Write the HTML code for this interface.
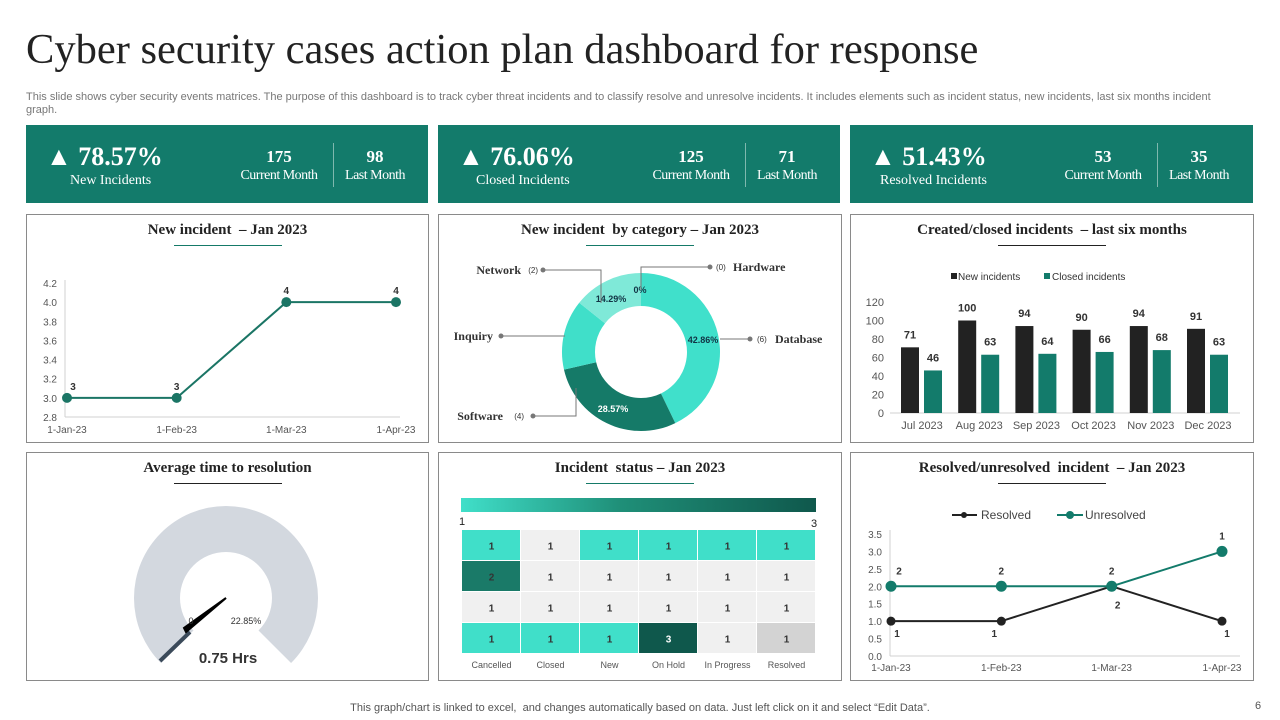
<!DOCTYPE html>
<html><head><meta charset="utf-8">
<style>
body{margin:0;width:1280px;height:720px;background:#fff;position:relative;overflow:hidden;font-family:"Liberation Sans",sans-serif}
.abs{position:absolute}
.serif{font-family:"Liberation Serif",serif}
.card{position:absolute;top:125px;height:78px;background:#137b6b;color:#fff;font-family:"Liberation Serif",serif}
.panel{position:absolute;border:1px solid #8a8a8a;box-sizing:border-box;background:#fff}
.ptitle{position:absolute;left:0;right:0;top:7px;text-align:center;font-family:"Liberation Serif",serif;font-weight:bold;font-size:15px;color:#222}
.uline{position:absolute;top:30px;height:1px;width:108px;background:#157a68}
svg text{font-family:"Liberation Sans",sans-serif}
</style></head><body>
<div class="abs serif" style="left:26px;top:25px;font-size:42.5px;color:#222">Cyber security cases action plan dashboard for response</div>
<div class="abs" style="left:26px;top:91px;width:1215px;font-size:11px;line-height:13px;color:#777">This slide shows cyber security events matrices. The purpose of this dashboard is to track cyber threat incidents and to classify resolve and unresolve incidents. It includes elements such as incident status, new incidents, last six months incident graph.</div>

<div class="card" style="left:26px;width:402px">
 <div class="abs" style="left:20px;top:17px;font-size:26px;font-weight:bold">▲ 78.57%</div>
 <div class="abs" style="left:44px;top:48px;font-size:14px">New Incidents</div>
 <div class="abs" style="left:210px;top:22px;width:86px;text-align:center;font-size:17px;font-weight:bold">175</div>
 <div class="abs" style="left:206px;top:43px;width:94px;text-align:center;font-size:14px;letter-spacing:-0.5px">Current Month</div>
 <div class="abs" style="left:307px;top:18px;width:1px;height:44px;background:#7fb8ae"></div>
 <div class="abs" style="left:310px;top:22px;width:78px;text-align:center;font-size:17px;font-weight:bold">98</div>
 <div class="abs" style="left:310px;top:43px;width:78px;text-align:center;font-size:14px;letter-spacing:-0.5px">Last Month</div>
</div>
<div class="card" style="left:438px;width:402px">
 <div class="abs" style="left:20px;top:17px;font-size:26px;font-weight:bold">▲ 76.06%</div>
 <div class="abs" style="left:38px;top:48px;font-size:14px">Closed Incidents</div>
 <div class="abs" style="left:210px;top:22px;width:86px;text-align:center;font-size:17px;font-weight:bold">125</div>
 <div class="abs" style="left:206px;top:43px;width:94px;text-align:center;font-size:14px;letter-spacing:-0.5px">Current Month</div>
 <div class="abs" style="left:307px;top:18px;width:1px;height:44px;background:#7fb8ae"></div>
 <div class="abs" style="left:310px;top:22px;width:78px;text-align:center;font-size:17px;font-weight:bold">71</div>
 <div class="abs" style="left:310px;top:43px;width:78px;text-align:center;font-size:14px;letter-spacing:-0.5px">Last Month</div>
</div>
<div class="card" style="left:850px;width:403px">
 <div class="abs" style="left:20px;top:17px;font-size:26px;font-weight:bold">▲ 51.43%</div>
 <div class="abs" style="left:30px;top:48px;font-size:14px">Resolved Incidents</div>
 <div class="abs" style="left:210px;top:22px;width:86px;text-align:center;font-size:17px;font-weight:bold">53</div>
 <div class="abs" style="left:206px;top:43px;width:94px;text-align:center;font-size:14px;letter-spacing:-0.5px">Current Month</div>
 <div class="abs" style="left:307px;top:18px;width:1px;height:44px;background:#7fb8ae"></div>
 <div class="abs" style="left:310px;top:22px;width:78px;text-align:center;font-size:17px;font-weight:bold">35</div>
 <div class="abs" style="left:310px;top:43px;width:78px;text-align:center;font-size:14px;letter-spacing:-0.5px">Last Month</div>
</div>

<div class="panel" style="left:26px;top:214px;width:403px;height:229px"><div class="ptitle">New incident &nbsp;– Jan 2023</div><div class="uline" style="left:147px"></div></div>
<div class="panel" style="left:438px;top:214px;width:404px;height:229px"><div class="ptitle">New incident &nbsp;by category – Jan 2023</div><div class="uline" style="left:147px"></div></div>
<div class="panel" style="left:850px;top:214px;width:404px;height:229px"><div class="ptitle">Created/closed incidents &nbsp;– last six months</div><div class="uline" style="left:147px;background:#222"></div></div>
<div class="panel" style="left:26px;top:452px;width:403px;height:229px"><div class="ptitle">Average time to resolution</div><div class="uline" style="left:147px;background:#222"></div></div>
<div class="panel" style="left:438px;top:452px;width:404px;height:229px"><div class="ptitle">Incident &nbsp;status – Jan 2023</div><div class="uline" style="left:147px"></div></div>
<div class="panel" style="left:850px;top:452px;width:404px;height:229px"><div class="ptitle">Resolved/unresolved &nbsp;incident &nbsp;– Jan 2023</div><div class="uline" style="left:147px;background:#222"></div></div>

<svg id="chart" class="abs" style="left:0;top:0" width="1280" height="720">
<defs><linearGradient id="grad" x1="0" x2="1"><stop offset="0" stop-color="#40dfc9"/><stop offset="0.45" stop-color="#1f8f78"/><stop offset="1" stop-color="#0f584c"/></linearGradient></defs>
</svg>

<div class="abs" style="left:0;width:1280px;top:702px;text-align:center;font-size:11px;color:#555">This graph/chart is linked to excel, &nbsp;and changes automatically based on data. Just left click on it and select “Edit Data”.</div>
<div class="abs" style="left:1255px;top:700px;font-size:11px;color:#555">6</div>

<script>
// Chart 1 data
const newIncDates=["1-Jan-23","1-Feb-23","1-Mar-23","1-Apr-23"];
const newIncValues=[3,3,4,4];
const newIncTicks=[2.8,3.0,3.2,3.4,3.6,3.8,4.0,4.2];
// Donut data
const catNames=["Database","Software","Inquiry","Network","Hardware"];
const catCounts=[6,4,2,2,0];
// Bar data
const months=["Jul 2023","Aug 2023","Sep 2023","Oct 2023","Nov 2023","Dec 2023"];
const newIncidents=[71,100,94,90,94,91];
const closedIncidents=[46,63,64,66,68,63];
const barTicks=[0,20,40,60,80,100,120];
// Gauge data
const gaugeValue=0.75;
const gaugePct=22.85;
// Heatmap data
const statusCols=["Cancelled","Closed","New","On Hold","In Progress","Resolved"];
const heatValues=[[1,1,1,1,1,1],[2,1,1,1,1,1],[1,1,1,1,1,1],[1,1,1,3,1,1]];
const heatColors=[["#40dfc9","#f0f0f0","#40dfc9","#40dfc9","#40dfc9","#40dfc9"],["#1a7a68","#f0f0f0","#f0f0f0","#f0f0f0","#f0f0f0","#f0f0f0"],["#f0f0f0","#f0f0f0","#f0f0f0","#f0f0f0","#f0f0f0","#f0f0f0"],["#40dfc9","#40dfc9","#40dfc9","#0f584c","#f0f0f0","#d3d3d3"]];
// Resolved/unresolved data
const ruDates=["1-Jan-23","1-Feb-23","1-Mar-23","1-Apr-23"];
const resolved=[1,1,2,1];
const unresolved=[2,2,2,3];
const ruLabels=[2,2,2,1];
const ruTicks=[0,0.5,1,1.5,2,2.5,3,3.5];

const svg=document.getElementById('chart');
const NS="http://www.w3.org/2000/svg";
function mk(tag,attrs,txt){const e=document.createElementNS(NS,tag);for(const k in attrs)e.setAttribute(k,attrs[k]);if(txt!==undefined)e.textContent=txt;svg.appendChild(e);return e;}

// ---- Chart 1
{const x=i=>67+i*(396-67)/3, y=v=>417-(v-2.8)/(1.4)*134;
 let l=mk('line',{x1:65,y1:417,x2:400,y2:417,stroke:'#d0d0d0'});
 
 mk('line',{x1:65,y1:280,x2:65,y2:417,stroke:'#d0d0d0'});
 newIncTicks.forEach(t=>{const e=mk('text',{x:57,y:y(t)+4,'font-size':10,fill:'#555','text-anchor':'end'},t.toFixed(1));});
 newIncDates.forEach((d,i)=>{const e=mk('text',{x:x(i),y:433,'font-size':10,fill:'#555','text-anchor':'middle'},d);});
 const p=mk('polyline',{points:newIncValues.map((v,i)=>x(i)+','+y(v)).join(' '),fill:'none',stroke:'#1b7565','stroke-width':2});
 
 newIncValues.forEach((v,i)=>{const c=mk('circle',{cx:x(i),cy:y(v),r:5,fill:'#1b7565'});
  mk('text',{x:x(i)+(i==0?6:0),y:y(v)-8,'font-size':10,'font-weight':'bold',fill:'#333','text-anchor':'middle'},v);});
}
// ---- Donut
{const cx=641,cy=352,R=79,r=46;const total=catCounts.reduce((a,b)=>a+b,0);
 const cols=["#40e0cb","#157a68","#40dfc9","#7fe9d8","#7fe9d8"];
 let a0=0;
 catCounts.forEach((c,i)=>{if(!c){return;}const a1=a0+c/total*2*Math.PI;
  const pt=(rad,a)=>[cx+rad*Math.sin(a),cy-rad*Math.cos(a)];
  const [x1,y1]=pt(R,a0),[x2,y2]=pt(R,a1),[x3,y3]=pt(r,a1),[x4,y4]=pt(r,a0);const lg=a1-a0>Math.PI?1:0;
  const s=mk('path',{d:`M${x1},${y1}A${R},${R} 0 ${lg} 1 ${x2},${y2}L${x3},${y3}A${r},${r} 0 ${lg} 0 ${x4},${y4}Z`,fill:cols[i]});
  
  a0=a1;});
 const pct=catCounts.map(c=>(c/total*100).toFixed(2)+'%');
 mk('text',{x:703,y:343,'font-size':9,'font-weight':'bold',fill:'#134','text-anchor':'middle'},pct[0]);
 mk('text',{x:613,y:412,'font-size':9,'font-weight':'bold',fill:'#fff','text-anchor':'middle'},pct[1]);
 mk('text',{x:611,y:302,'font-size':9,'font-weight':'bold',fill:'#134','text-anchor':'middle'},pct[3]);
 mk('text',{x:640,y:293,'font-size':9,'font-weight':'bold',fill:'#134','text-anchor':'middle'},'0%');
 const lbl=[[720,339,750,339,'('+catCounts[0]+')',757,'Database',775,'start'],[576,388,533,416,'('+catCounts[1]+')',524,'Software',503,'end'],[565,336,501,336,'',0,'Inquiry',493,'end'],[601,293,543,270,'('+catCounts[3]+')',538,'Network',521,'end'],[641,290,710,267,'('+catCounts[4]+')',716,'Hardware',733,'start']];
 lbl.forEach((L,i)=>{const [ax,ay,bx,by,cnt,cxp,nm,nx,anc]=L;
  const mid = i==1?`${ax},${ay} ${ax},${by} ${bx},${by}`: i==3?`${ax},${ay+10} ${ax},${by} ${bx},${by}`: i==4?`${ax},${ay} ${ax},${by} ${bx},${by}`:`${ax},${ay} ${bx},${by}`;
  mk('polyline',{points:mid,fill:'none',stroke:'#777'});mk('circle',{cx:bx,cy:by,r:2.5,fill:'#777'});
  if(cnt)mk('text',{x:cxp,y:by+3,'font-size':8,fill:'#333','text-anchor':anc=='start'?'start':'end'},cnt);
  const t=mk('text',{x:nx,y:by+4,'font-size':12,'font-weight':'bold',fill:'#333','text-anchor':anc,style:'font-family:Liberation Serif,serif'},nm);
  });
}
// ---- Bars
{const y=v=>413-v/120*111, cx=i=>922+i*57.2;
 mk('line',{x1:890,y1:413,x2:1240,y2:413,stroke:'#d0d0d0'});
 barTicks.forEach(t=>mk('text',{x:884,y:y(t)+4,'font-size':11,fill:'#555','text-anchor':'end'},t));
 months.forEach((m,i)=>mk('text',{x:cx(i),y:429,'font-size':11,fill:'#555','text-anchor':'middle'},m));
 mk('rect',{x:951,y:273,width:6,height:6,fill:'#222'});mk('text',{x:958,y:280,'font-size':10,fill:'#333'},'New incidents');
 mk('rect',{x:1044,y:273,width:6,height:6,fill:'#137b6b'});mk('text',{x:1052,y:280,'font-size':10,fill:'#333'},'Closed incidents');
 newIncidents.forEach((v,i)=>{const b=mk('rect',{x:cx(i)-21,y:y(v),width:18,height:413-y(v),fill:'#222'});
  mk('text',{x:cx(i)-12,y:y(v)-9,'font-size':11,'font-weight':'bold',fill:'#333','text-anchor':'middle'},v);});
 closedIncidents.forEach((v,i)=>{const b=mk('rect',{x:cx(i)+2,y:y(v),width:18,height:413-y(v),fill:'#137b6b'});
  mk('text',{x:cx(i)+11,y:y(v)-9,'font-size':11,'font-weight':'bold',fill:'#333','text-anchor':'middle'},v);});
}
// ---- Gauge
{const cx=226,cy=598,R=92,r=46;const s=-135*Math.PI/180,e=135*Math.PI/180;
 const pt=(rad,a)=>[cx+rad*Math.sin(a),cy-rad*Math.cos(a)];
 const [x1,y1]=pt(R,s),[x2,y2]=pt(R,e),[x3,y3]=pt(r,e),[x4,y4]=pt(r,s);
 const g=mk('path',{d:`M${x1},${y1}A${R},${R} 0 1 1 ${x2},${y2}L${x3},${y3}A${r},${r} 0 1 0 ${x4},${y4}Z`,fill:'#d3d8df'});
 
 mk('line',{x1:160,y1:661,x2:190,y2:632,stroke:'#3b4a5a','stroke-width':4});
 mk('polygon',{points:'226,598 186,632 184,628',fill:'#000',stroke:'#000','stroke-width':2});
 mk('text',{x:191,y:624,'font-size':9,fill:'#333','text-anchor':'middle'},'0');
 mk('text',{x:246,y:624,'font-size':9,fill:'#333','text-anchor':'middle'},gaugePct.toFixed(2)+'%');
 const t=mk('text',{x:228,y:663,'font-size':15,'font-weight':'bold',fill:'#333','text-anchor':'middle'},gaugeValue.toFixed(2)+' Hrs');
 
}
// ---- Heatmap
{mk('rect',{x:461,y:498,width:355,height:14,fill:'url(#grad)'});
 mk('text',{x:459,y:525,'font-size':11,fill:'#222'},'1');mk('text',{x:811,y:527,'font-size':11,fill:'#222'},'3');
 const x0=462,y0=530,w=59,h=31;
 heatValues.forEach((row,r)=>row.forEach((v,c)=>{const cell=mk('rect',{x:x0+c*w,y:y0+r*h,width:w-1,height:h-1,fill:heatColors[r][c]});
  
  mk('text',{x:x0+c*w+w/2,y:y0+r*h+h/2+4,'font-size':10,'font-weight':'bold',fill:heatColors[r][c]=='#0f584c'?'#fff':'#333','text-anchor':'middle'},v);}));
 statusCols.forEach((s,c)=>mk('text',{x:x0+c*w+w/2,y:668,'font-size':9,fill:'#555','text-anchor':'middle'},s));
}
// ---- Resolved / Unresolved
{const x=i=>891+i*(1222-891)/3, y=v=>656-v/3.5*122;
 mk('line',{x1:890,y1:656,x2:1240,y2:656,stroke:'#d0d0d0'});mk('line',{x1:890,y1:530,x2:890,y2:656,stroke:'#d0d0d0'});
 ruTicks.forEach(t=>mk('text',{x:882,y:y(t)+4,'font-size':10,fill:'#555','text-anchor':'end'},t.toFixed(1)));
 ruDates.forEach((d,i)=>mk('text',{x:x(i),y:671,'font-size':10,fill:'#555','text-anchor':'middle'},d));
 mk('line',{x1:952,y1:515,x2:977,y2:515,stroke:'#222','stroke-width':2});mk('circle',{cx:964,cy:515,r:3,fill:'#222'});
 mk('text',{x:981,y:519,'font-size':12,fill:'#444'},'Resolved');
 mk('line',{x1:1057,y1:515,x2:1083,y2:515,stroke:'#137b6b','stroke-width':2});mk('circle',{cx:1070,cy:515,r:4,fill:'#137b6b'});
 mk('text',{x:1085,y:519,'font-size':12,fill:'#444'},'Unresolved');
 const l1=mk('polyline',{points:resolved.map((v,i)=>x(i)+','+y(v)).join(' '),fill:'none',stroke:'#222','stroke-width':2});
 
 const l2=mk('polyline',{points:unresolved.map((v,i)=>x(i)+','+y(v)).join(' '),fill:'none',stroke:'#137b6b','stroke-width':2});
 
 resolved.forEach((v,i)=>{mk('circle',{cx:x(i),cy:y(v),r:4.5,fill:'#222'});mk('text',{x:x(i)+(i==1?-7:i==3?5:6),y:y(v)+(i==2?22:16),'font-size':10,'font-weight':'bold',fill:'#333','text-anchor':'middle'},v);});
 unresolved.forEach((v,i)=>{mk('circle',{cx:x(i),cy:y(v),r:5.5,fill:'#137b6b'});mk('text',{x:x(i)+(i==0?8:i==3?0:0),y:y(v)-12,'font-size':10,'font-weight':'bold',fill:'#333','text-anchor':'middle'},ruLabels[i]);});
}
</script>
</body></html>
